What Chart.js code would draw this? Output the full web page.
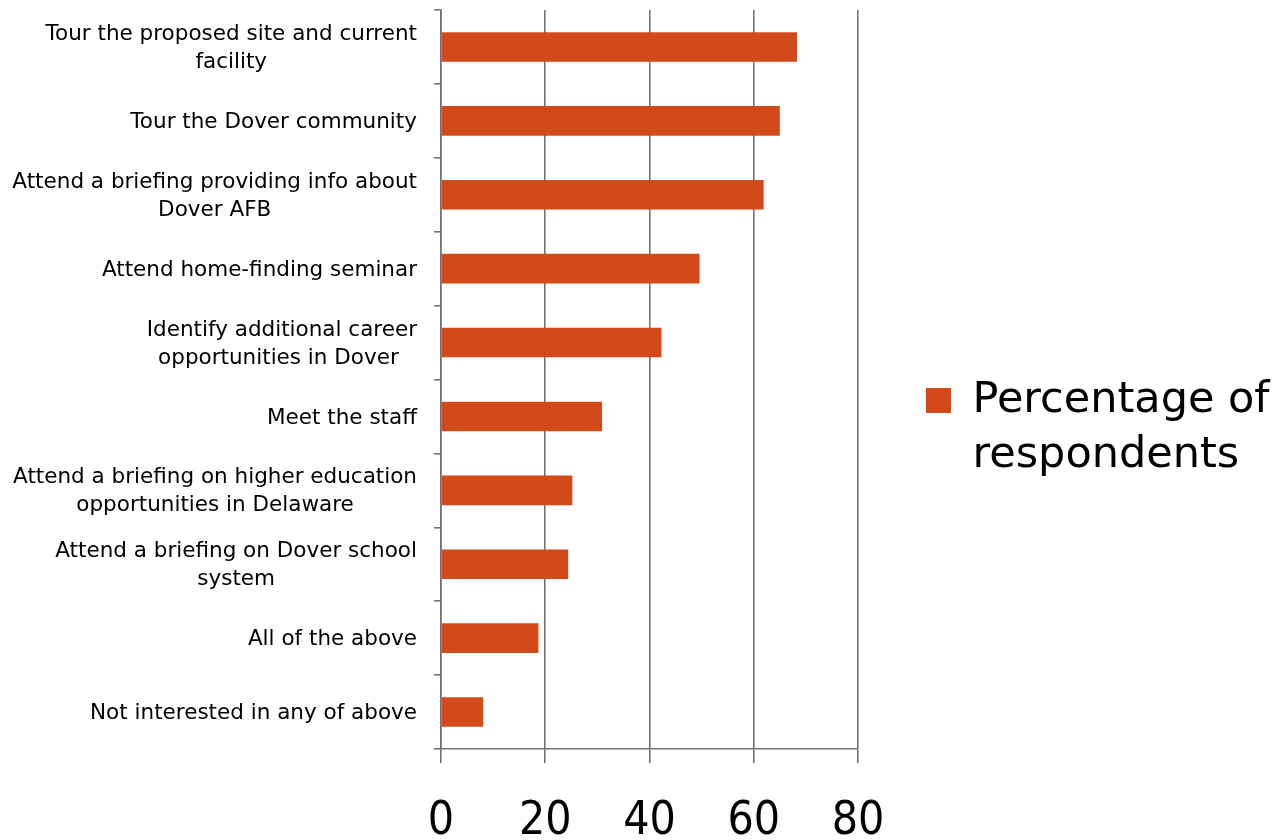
<!DOCTYPE html>
<html><head><meta charset="utf-8">
<script src="https://cdn.jsdelivr.net/npm/chart.js@4.4.0/dist/chart.umd.min.js"></script>
<style>html,body{margin:0;padding:0;background:#fff}#wrap{width:1282px;height:840px;position:relative}</style>
</head><body><div id="wrap"><canvas id="c"></canvas></div>
<script>
const categories = [
  ["Tour the proposed site and current", "facility"],
  ["Tour the Dover community"],
  ["Attend a briefing providing info about", "Dover AFB"],
  ["Attend home-finding seminar"],
  ["Identify additional career", "opportunities in Dover "],
  ["Meet the staff"],
  ["Attend a briefing on higher education", "opportunities in Delaware"],
  ["Attend a briefing on Dover school", "system"],
  ["All of the above"],
  ["Not interested in any of above"]
];
const percentages = [68.3, 65.0, 61.9, 49.6, 42.3, 30.9, 25.2, 24.4, 18.7, 8.1];
const xTicks = [0, 20, 40, 60, 80];
const seriesName = ["Percentage of", "respondents"];

const FAMILY = '"DejaVu Sans", sans-serif';
const DIGITS = '"DejaVu Sans Condensed", "DejaVu Sans", sans-serif';
const BAR = '#D24A19';
const GRID = '#737373';

const yLabelPlugin = {
  id: 'yLabels',
  afterDraw(chart) {
    const ys = chart.scales.y, ctx = chart.ctx;
    ctx.save();
    ctx.font = '21.5px ' + FAMILY;
    ctx.fillStyle = '#000';
    ctx.textAlign = 'center';
    ctx.textBaseline = 'middle';
    const right = ys.right - 24;
    categories.forEach((lines, i) => {
      const y = ys.getPixelForValue(i) + 1.5;
      const maxW = Math.max(...lines.map(l => ctx.measureText(l).width));
      const cx = right - maxW / 2;
      lines.forEach((l, j) => ctx.fillText(l, cx, y + (j - (lines.length - 1) / 2) * 28));
    });
    ctx.restore();
  }
};

new Chart(document.getElementById('c'), {
  type: 'bar',
  data: {
    labels: categories.map(c => c.join(' ')),
    datasets: [{
      label: seriesName.join(' '),
      data: percentages,
      backgroundColor: BAR,
      borderWidth: 0,
      categoryPercentage: 1,
      barPercentage: 0.4
    }]
  },
  options: {
    indexAxis: 'y',
    responsive: true,
    maintainAspectRatio: false,
    animation: false,
    layout: { padding: { top: 10, right: 6, bottom: 0, left: 0 } },
    scales: {
      x: {
        min: 0, max: 80,
        afterBuildTicks: s => { s.ticks = xTicks.map(v => ({ value: v })); },
        afterFit: s => { s.height = 91; },
        grid: { color: GRID, lineWidth: 1.6, tickLength: 14, drawOnChartArea: true },
        border: { display: true, color: GRID, width: 1.6 },
        ticks: { font: { size: 46, family: DIGITS }, color: '#000', padding: 31, maxRotation: 0 }
      },
      y: {
        afterFit: s => { s.width = 441; },
        grid: { color: GRID, lineWidth: 1.6, tickLength: 7, drawOnChartArea: false, offset: true },
        border: { display: true, color: GRID, width: 1.6 },
        ticks: { display: false }
      }
    },
    plugins: {
      tooltip: { enabled: false },
      legend: {
        position: 'right',
        align: 'center',
        maxWidth: 418,
        title: { display: true, text: ' ', font: { size: 10 }, padding: 3 },
        labels: {
          font: { size: 43, family: FAMILY, lineHeight: 1.28 },
          color: '#000',
          boxWidth: 25,
          boxHeight: 25,
          padding: 68,
          generateLabels: () => [{
            text: seriesName, fillStyle: BAR, strokeStyle: BAR, lineWidth: 0,
            fontColor: '#000', hidden: false, datasetIndex: 0
          }]
        }
      }
    }
  },
  plugins: [yLabelPlugin]
});
</script>
</body></html>
